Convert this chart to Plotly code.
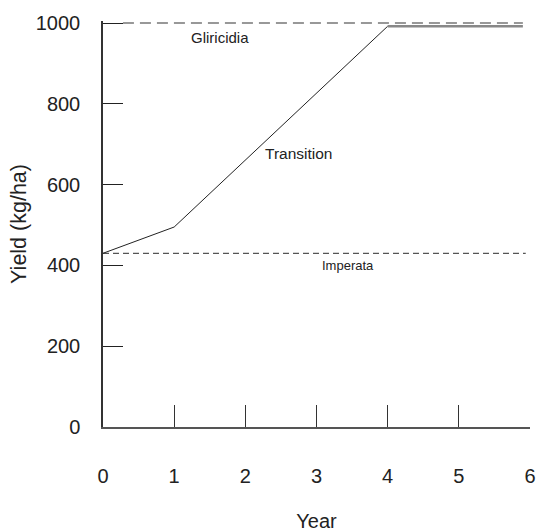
import plotly.graph_objects as go

# Data
transition_years = [0, 1, 4]
transition_yield = [430, 495, 992]
plateau_years = [4, 5.9]
plateau_yield = [992, 992]
gliricidia_years = [0.28, 5.9]
gliricidia_yield = [1000, 1000]
imperata_years = [0, 5.94]
imperata_yield = [430, 430]

x_ticks = [0, 1, 2, 3, 4, 5, 6]
y_ticks = [0, 200, 400, 600, 800, 1000]

label_text = ["Gliricidia", "Transition", "Imperata"]
label_x = [1.65, 2.75, 3.44]
label_y = [965, 678, 401]
label_size = [15, 15.5, 13]

FONT = "Liberation Sans, Arial, Helvetica, sans-serif"

fig = go.Figure()
fig.add_trace(go.Scatter(x=gliricidia_years, y=gliricidia_yield, mode="lines",
                         line=dict(color="#333333", width=1.2, dash="11px,6px"),
                         showlegend=False, hoverinfo="skip"))
fig.add_trace(go.Scatter(x=imperata_years, y=imperata_yield, mode="lines",
                         line=dict(color="#555555", width=1.2, dash="6px,4px"),
                         showlegend=False, hoverinfo="skip"))
fig.add_trace(go.Scatter(x=transition_years, y=transition_yield, mode="lines",
                         line=dict(color="#222222", width=1),
                         showlegend=False, hoverinfo="skip"))
fig.add_trace(go.Scatter(x=plateau_years, y=plateau_yield, mode="lines",
                         line=dict(color="#888888", width=2.5),
                         showlegend=False, hoverinfo="skip"))

for t, x, y, s in zip(label_text, label_x, label_y, label_size):
    fig.add_annotation(x=x, y=y, text=t, showarrow=False,
                       font=dict(family=FONT, size=s, color="#222222"))

fig.update_layout(
    width=537, height=532,
    margin=dict(l=103, r=7, t=21, b=105),
    paper_bgcolor="white", plot_bgcolor="white",
    font=dict(family=FONT, size=20, color="#222222"),
)
fig.update_xaxes(range=[0, 6], tickvals=x_ticks, ticks="inside", ticklen=22,
                 tickcolor="#333333", tickwidth=1.2,
                 showline=True, linecolor="#555555", linewidth=1.5,
                 showgrid=False, zeroline=False, automargin=False,
                 ticklabelstandoff=30,
                 title=dict(text="Year", standoff=31,
                            font=dict(size=20)))
fig.update_yaxes(range=[0, 1005], tickvals=y_ticks, ticks="inside", ticklen=20,
                 tickcolor="#222222", tickwidth=1.2,
                 showline=True, linecolor="#333333", linewidth=1.5,
                 showgrid=False, zeroline=False, automargin=False,
                 ticklabelstandoff=17,
                 title=dict(text="Yield (kg/ha)", standoff=3,
                            font=dict(size=21.5)))

fig.write_html("out.html",
               config={"displayModeBar": False},
               post_script="document.body.style.margin='0';document.body.style.overflow='hidden';")
